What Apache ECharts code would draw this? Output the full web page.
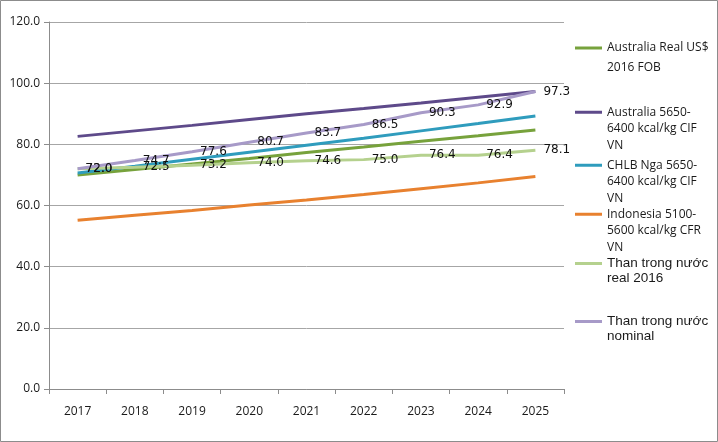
<!DOCTYPE html>
<html><head><meta charset="utf-8">
<script src="https://cdn.jsdelivr.net/npm/echarts@6/dist/echarts.min.js"></script>
<style>html,body{margin:0;padding:0;background:#fff}#c{width:718px;height:442px}</style>
</head><body><div id="c"></div>
<script>
const years = ['2017','2018','2019','2020','2021','2022','2023','2024','2025'];
const ausReal = [70.0, 71.8, 73.6, 75.4, 77.3, 79.1, 81.0, 82.8, 84.7];
const aus5650 = [82.6, 84.4, 86.2, 88.1, 90.0, 91.7, 93.5, 95.4, 97.3];
const chlbNga = [70.6, 72.8, 75.1, 77.4, 79.7, 82.0, 84.4, 86.8, 89.3];
const indonesia = [55.2, 56.8, 58.4, 60.2, 61.8, 63.6, 65.5, 67.4, 69.5];
const thanReal = [72.0, 72.5, 73.2, 74.0, 74.6, 75.0, 76.4, 76.4, 78.1];
const thanNominal = [72.0, 74.7, 77.6, 80.7, 83.7, 86.5, 90.3, 92.9, 97.3];
const yTicks = [0, 20, 40, 60, 80, 100, 120];

const names = ['Australia Real US$ 2016 FOB','Australia 5650-6400 kcal/kg CIF VN','CHLB Nga 5650-6400 kcal/kg CIF VN','Indonesia 5100-5600 kcal/kg CFR VN','Than trong nước real 2016','Than trong nước nominal'];
const legendText = ['\nAustralia Real US$\n2016 FOB','\n\nAustralia 5650-\n6400 kcal/kg CIF\nVN','\n\nCHLB Nga 5650-\n6400 kcal/kg CIF\nVN','\n\nIndonesia 5100-\n5600 kcal/kg CFR\nVN','\nThan trong nước\nreal 2016','\nThan trong nước\nnominal'];
const colors = ['#77a23c','#5e4a8a','#2f9cbd','#e8812f','#b5d18e','#a79ac8'];
const dataSets = [ausReal, aus5650, chlbNga, indonesia, thanReal, thanNominal];
const labeled = [false,false,false,false,true,true];
const legendTops = [18, 71, 124, 173, 241, 299];
const legendLH = [20, 16.5, 16.5, 16.5, 15, 15];
const legendFont = ['Open Sans','Open Sans','Open Sans','Open Sans','Liberation Sans','Liberation Sans'];
const legendSize = [12,12,12,12,13.5,13.5];

const chart = echarts.init(document.getElementById('c'));
const legends = names.map((n,i)=>({
  data:[n], orient:'vertical', left:575, top:legendTops[i], padding:0,
  icon:'rect', itemWidth:27, itemHeight:3, selectedMode:false,
  formatter:()=>legendText[i],
  textStyle:{fontFamily:legendFont[i], fontSize:legendSize[i], lineHeight:legendLH[i], color:'#1a1a1a'}
}));
chart.setOption({
  animation:false,
  backgroundColor:'#fff',
  graphic:[{type:'rect', shape:{x:0.5,y:0.5,width:717,height:441}, style:{fill:null, stroke:'#8c8c8c', lineWidth:1}, silent:true}],
  legend: legends,
  grid:{left:49, right:154, top:22, bottom:53},
  xAxis:{type:'category', data:years, boundaryGap:true,
    axisLine:{lineStyle:{color:'#8c8c8c'}},
    axisTick:{show:true, length:5, lineStyle:{color:'#8c8c8c'}},
    axisLabel:{margin:17, color:'#1a1a1a', fontFamily:'Open Sans', fontSize:12}},
  yAxis:{type:'value', min:yTicks[0], max:yTicks[yTicks.length-1], interval:yTicks[1]-yTicks[0],
    axisLine:{show:true, lineStyle:{color:'#8c8c8c'}},
    axisTick:{show:true, length:5, lineStyle:{color:'#8c8c8c'}},
    splitLine:{lineStyle:{color:'#a6a6a6'}},
    axisLabel:{margin:9, color:'#1a1a1a', fontFamily:'Open Sans', fontSize:12, formatter:v=>v.toFixed(1)}},
  series: names.map((n,i)=>({
    name:n, type:'line', data:dataSets[i], symbol:'circle', symbolSize:0, showSymbol:true, color:colors[i],
    lineStyle:{width:3, color:colors[i]},
    label:{show:labeled[i], position:'right', distance:8, color:'#111', fontFamily:'DejaVu Sans', fontSize:12,
      formatter:p=>p.value.toFixed(1)},
    labelLayout:{hideOverlap:false},
    z:2+i
  }))
});
</script></body></html>
